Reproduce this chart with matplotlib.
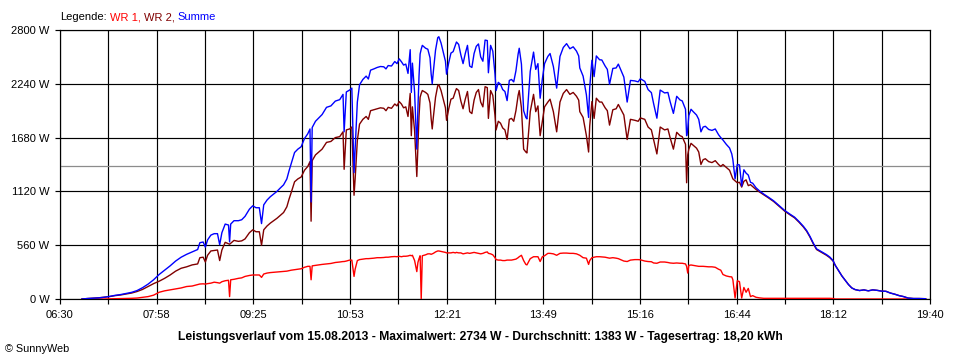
import matplotlib
matplotlib.use("Agg")
import matplotlib.pyplot as plt

# ---------------- data ----------------
times = ["06:50","06:55","07:00","07:05","07:10","07:15","07:20","07:25","07:30","07:35",
         "07:40","07:45","07:50","07:55","08:00","08:05","08:10","08:15","08:20","08:25",
         "08:30","08:35","08:37","08:40","08:42","08:44","08:47","08:50","08:53","08:55",
         "08:57","09:00","09:03","09:04","09:05","09:08","09:12","09:15","09:18","09:22",
         "09:25","09:28","09:31","09:33","09:35","09:38","09:41","09:44","09:47","09:50",
         "09:53","09:56","09:58","10:00","10:03","10:06","10:09","10:12","10:15","10:17",
         "10:18","10:19","10:22","10:25","10:28","10:32","10:36","10:40","10:44","10:47",
         "10:48","10:50","10:53","10:55","10:57","10:58","11:00","11:02","11:05","11:08",
         "11:10","11:12","11:15","11:18","11:21","11:24","11:26","11:28","11:31","11:34",
         "11:36","11:38","11:40","11:42","11:44","11:46","11:48","11:49","11:50","11:52",
         "11:54","11:55","11:56","11:57","11:58","11:59","12:02","12:04","12:06","12:07",
         "12:08","12:09","12:11","12:13","12:14","12:16","12:18","12:20","12:21","12:23",
         "12:25","12:27","12:29","12:30","12:32","12:34","12:36","12:38","12:40","12:42",
         "12:44","12:46","12:48","12:50","12:52","12:54","12:56","12:58","12:59","13:01",
         "13:03","13:05","13:06","13:08","13:10","13:12","13:14","13:16","13:18","13:20",
         "13:22","13:24","13:26","13:27","13:29","13:31","13:33","13:34","13:36","13:37",
         "13:40","13:42","13:44","13:46","13:48","13:50","13:53","13:55","13:58","14:01",
         "14:04","14:07","14:10","14:13","14:16","14:19","14:21","14:22","14:25","14:28",
         "14:30","14:31","14:33","14:35","14:37","14:40","14:42","14:45","14:47","14:49",
         "14:52","14:55","14:57","15:00","15:02","15:05","15:08","15:12","15:15","15:17",
         "15:21","15:24","15:27","15:29","15:32","15:35","15:39","15:42","15:44","15:47",
         "15:50","15:53","15:55","15:58","15:59","16:00","16:01","16:03","16:05","16:08",
         "16:10","16:12","16:14","16:16","16:19","16:22","16:25","16:28","16:30","16:32",
         "16:35","16:38","16:40","16:41","16:43","16:45","16:47","16:49","16:51","16:53",
         "16:55","16:57","16:59","17:02","17:05","17:09","17:13","17:18","17:23","17:28",
         "17:33","17:37","17:41","17:45","17:48","17:51","17:54","17:57","18:00","18:03",
         "18:06","18:09","18:12","18:14","18:17","18:20","18:23","18:26","18:29","18:32",
         "18:36","18:40","18:44","18:48","18:52","18:56","19:00","19:04","19:08","19:12",
         "19:16","19:20","19:25","19:30","19:36"]

wr1 = [0,0,0,0,0,2,3,4,5,7,
       10,18,25,40,70,85,95,105,115,130,
       135,150,156,158,155,160,165,175,170,165,
       180,190,195,25,200,205,215,220,235,245,
       250,250,250,225,260,270,275,278,280,285,
       288,290,295,300,305,310,315,330,340,340,
       200,345,350,355,360,365,370,380,385,390,
       390,395,405,405,235,310,400,410,415,420,
       420,422,425,430,430,432,435,435,440,442,
       440,445,440,445,445,448,455,450,455,400,
       285,380,420,450,0,450,460,470,470,465,
       470,475,490,500,500,495,490,485,480,480,
       480,485,480,485,480,480,470,475,480,475,
       480,485,480,475,470,475,485,490,475,470,
       460,430,410,405,405,400,400,405,405,405,
       410,415,430,440,455,400,360,355,400,420,
       440,440,440,390,440,450,475,475,470,455,
       475,478,478,475,475,470,460,455,430,425,
       360,400,430,435,440,440,438,435,430,425,
       430,425,420,405,395,390,405,410,410,408,
       395,390,388,375,372,385,385,380,375,372,
       375,372,372,365,340,270,350,354,350,345,
       340,340,340,338,335,335,330,310,300,255,
       240,232,230,200,10,190,180,10,120,70,
       110,25,35,18,12,7,7,7,7,7,
       7,7,7,7,7,7,7,7,7,7,
       7,7,5,0,0,0,0,0,0,0,
       0,0,0,0,0,0,0,0,0,0,
       0,0,0,0,0]

wr2 = [0,5,8,12,18,25,35,42,52,62,
       78,100,130,160,185,215,250,290,320,335,
       355,365,430,435,385,455,500,505,510,400,
       510,590,575,570,580,610,600,605,625,690,
       720,700,700,560,720,760,790,815,840,870,
       900,960,1040,1110,1220,1250,1270,1340,1380,1430,
       810,1440,1500,1530,1560,1630,1640,1680,1690,1740,
       1350,1760,1770,1790,1080,1250,1650,1820,1870,1900,
       1870,1960,1970,1980,1990,1985,1960,1995,1985,2030,
       2010,2055,2030,1990,2000,1900,2140,1700,2000,1750,
       1275,1600,1900,2100,2140,2170,2150,2130,2040,1880,
       1770,1890,2100,2220,2230,2170,2080,1990,1860,1980,
       2080,2090,2160,2190,2170,2060,1980,2080,2160,1950,
       1930,2070,2150,2180,2050,2000,2210,2200,1880,2170,
       2120,1910,1760,1850,1830,1780,1760,1660,1870,1880,
       1850,1960,2120,2170,1990,1560,1530,1520,1800,1950,
       2130,1950,2010,1700,1850,2000,2050,2080,1950,1740,
       2050,2140,2180,2130,2150,2110,2070,1950,1890,1700,
       1530,1800,2055,1880,2090,2050,2050,1990,1960,1810,
       1970,1980,2025,1960,1915,1660,1870,1860,1850,1885,
       1870,1790,1760,1660,1510,1790,1760,1770,1680,1560,
       1735,1700,1690,1610,1210,1500,1560,1620,1600,1570,
       1530,1400,1450,1460,1430,1420,1440,1400,1380,1400,
       1370,1340,1280,1250,1230,1210,1215,1165,1225,1240,
       1180,1190,1170,1140,1115,1085,1055,1015,965,915,
       875,845,800,750,705,645,575,515,495,475,
       455,430,395,350,295,240,195,150,115,98,
       88,95,85,95,90,82,80,62,50,35,
       25,10,5,5,3]

summe = [0,5,8,12,18,27,38,46,57,69,
         88,118,155,200,255,300,345,395,435,465,
         490,515,586,593,540,615,665,680,680,565,
         690,780,770,595,780,815,815,825,860,935,
         970,950,950,785,980,1030,1065,1093,1120,1155,
         1188,1250,1335,1410,1525,1560,1585,1670,1720,1770,
         1010,1785,1850,1885,1920,1995,2010,2060,2075,2130,
         1740,2155,2175,2195,1315,1560,2050,2230,2285,2320,
         2290,2382,2395,2410,2420,2417,2395,2430,2425,2472,
         2450,2500,2470,2435,2445,2348,2595,2150,2455,2150,
         1560,1980,2320,2550,2600,2640,2610,2600,2510,2345,
         2240,2365,2590,2720,2730,2665,2570,2475,2340,2460,
         2560,2575,2640,2675,2650,2540,2450,2555,2640,2425,
         2410,2555,2630,2655,2520,2475,2695,2690,2355,2640,
         2580,2340,2170,2255,2235,2180,2160,2065,2275,2285,
         2260,2375,2550,2610,2445,1960,1890,1875,2200,2370,
         2570,2390,2450,2090,2290,2450,2525,2555,2420,2195,
         2525,2618,2658,2605,2625,2580,2530,2405,2320,2125,
         1890,2200,2485,2315,2530,2490,2488,2425,2390,2235,
         2400,2405,2445,2365,2310,2050,2275,2270,2260,2293,
         2265,2180,2148,2035,1882,2175,2145,2150,2055,1932,
         2110,2072,2062,1975,1700,1770,1910,1975,1950,1915,
         1870,1740,1790,1798,1765,1755,1770,1710,1680,1655,
         1610,1572,1510,1450,1250,1400,1395,1175,1345,1310,
         1290,1215,1205,1158,1127,1092,1062,1022,972,922,
         882,852,807,757,712,652,582,522,502,482,
         462,437,400,350,295,240,195,150,115,98,
         88,95,85,95,90,82,80,62,50,35,
         25,10,5,5,3]

x_tick_labels = ["06:30", "07:58", "09:25", "10:53", "12:21",
                 "13:49", "15:16", "16:44", "18:12", "19:40"]
y_ticks = [0, 560, 1120, 1680, 2240, 2800]
y_tick_labels = ["0 W", "560 W", "1120 W", "1680 W", "2240 W", "2800 W"]
average_w = 1383
legend_parts = ["Legende:", "WR 1,", "WR 2,", "Summe"]
caption = ("Leistungsverlauf vom 15.08.2013 - Maximalwert: 2734 W - "
           "Durchschnitt: 1383 W - Tagesertrag: 18,20 kWh")
copyright_text = "\u00a9 SunnyWeb"

# ---------------- styling ----------------
C_WR1 = "#ff0000"
C_WR2 = "#800000"
C_SUM = "#0000ff"
FONT = "Liberation Sans"


def to_min(s):
    h, m = s.split(":")
    return int(h) * 60 + int(m)


t = [to_min(s) for s in times]
t_start = to_min(x_tick_labels[0])
t_end = to_min(x_tick_labels[-1])
n_grid = 18
grid_ticks = [t_start + k * (t_end - t_start) / n_grid for k in range(n_grid + 1)]
grid_labels = [x_tick_labels[k // 2] if k % 2 == 0 else "" for k in range(n_grid + 1)]

W, H = 960, 360
fig = plt.figure(figsize=(W / 100, H / 100), dpi=100)
fig.patch.set_facecolor("white")
ax = fig.add_axes([60 / W, 1 - 299 / H, 870 / W, 269 / H])

ax.set_xlim(t_start, t_end)
ax.set_ylim(0, 2800)
ax.set_xticks(grid_ticks)
ax.set_xticklabels(grid_labels, fontsize=8, family=FONT)
ax.set_yticks(y_ticks)
ax.set_yticklabels(y_tick_labels, fontsize=8, family=FONT)
ax.tick_params(direction="out", length=3.6, width=0.85, color="black", pad=4)
ax.grid(True, color="black", linewidth=0.85, zorder=0.5)
ax.set_axisbelow(True)
for sp in ax.spines.values():
    sp.set_color("black")
    sp.set_linewidth(0.85)

ax.axhline(average_w, color="#8c8c8c", linewidth=0.9, zorder=1)

ax.plot(t, wr1, color=C_WR1, linewidth=1.0, zorder=3)
ax.plot(t, wr2, color=C_WR2, linewidth=1.0, zorder=4)
ax.plot(t, summe, color=C_SUM, linewidth=1.0, zorder=5)

# legend text line
fig.canvas.draw()
renderer = fig.canvas.get_renderer()
xpos = 60
for part, col in zip(legend_parts, ["black", C_WR1, C_WR2, C_SUM]):
    txt = fig.text(xpos / W, 1 - 17 / H, part, color=col, fontsize=8,
                   family=FONT, ha="left", va="center")
    bb = txt.get_window_extent(renderer=renderer)
    xpos = bb.x1 + 3

fig.text(480 / W, 1 - 337 / H, caption, fontsize=8.7, family=FONT,
         fontweight="bold", ha="center", va="center")
fig.text(5 / W, 1 - 349 / H, copyright_text, fontsize=7.8, family=FONT,
         ha="left", va="center")

fig.savefig("out.png", dpi=100, facecolor="white")
